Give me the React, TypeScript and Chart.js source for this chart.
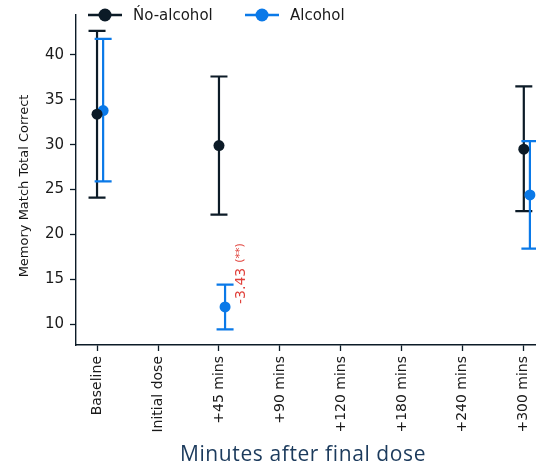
import React, { useEffect, useRef } from "react";
import { Chart, registerables } from "chart.js";

Chart.register(...registerables);

// Time points after the final dose
const categories = [
  "Baseline",
  "Initial dose",
  "+45 mins",
  "+90 mins",
  "+120 mins",
  "+180 mins",
  "+240 mins",
  "+300 mins",
];

// Memory Match total correct: mean with lower / upper error bounds
const noAlcoholMean = [33.4, null, 29.9, null, null, null, null, 29.5];
const noAlcoholLow = [24.1, null, 22.2, null, null, null, null, 22.6];
const noAlcoholHigh = [42.7, null, 37.6, null, null, null, null, 36.5];

const alcoholMean = [33.8, null, 11.9, null, null, null, null, 24.4];
const alcoholLow = [25.9, null, 9.4, null, null, null, null, 18.4];
const alcoholHigh = [41.8, null, 14.4, null, null, null, null, 30.4];

const yTicks = [10, 15, 20, 25, 30, 35, 40];

// Effect-size note attached to the alcohol group at +45 mins
const noteIndex = 2;
const noteValue = "-3.43";
const noteStars = "(**)";

const DARK = "#0c1b27";
const BLUE = "#0a79e8";
const RED = "#e0403a";
const DODGE = 0.1;
const FONT = "'DejaVu Sans', sans-serif";

type Pt = { x: number; y: number; lo: number; hi: number };

function buildPoints(
  means: (number | null)[],
  lows: (number | null)[],
  highs: (number | null)[],
  offset: number
): Pt[] {
  const out: Pt[] = [];
  means.forEach((m, i) => {
    if (m == null) return;
    out.push({ x: i + offset, y: m, lo: lows[i] as number, hi: highs[i] as number });
  });
  return out;
}

const errorBarPlugin = {
  id: "errorBars",
  beforeDatasetsDraw(chart: any) {
    const { ctx } = chart;
    const xs = chart.scales.x;
    const ys = chart.scales.y;
    chart.data.datasets.forEach((ds: any) => {
      ctx.save();
      ctx.strokeStyle = ds.borderColor;
      ctx.lineWidth = 2.2;
      ds.data.forEach((p: Pt) => {
        const px = xs.getPixelForValue(p.x);
        const pLo = ys.getPixelForValue(p.lo);
        const pHi = ys.getPixelForValue(p.hi);
        const cap = 8.5;
        ctx.beginPath();
        ctx.moveTo(px, pLo);
        ctx.lineTo(px, pHi);
        ctx.moveTo(px - cap, pLo);
        ctx.lineTo(px + cap, pLo);
        ctx.moveTo(px - cap, pHi);
        ctx.lineTo(px + cap, pHi);
        ctx.stroke();
      });
      ctx.restore();
    });
  },
};

const decorPlugin = {
  id: "decor",
  afterDraw(chart: any) {
    const { ctx } = chart;
    const xs = chart.scales.x;
    const ys = chart.scales.y;

    // Legend: line-and-marker handles
    const items = [
      { label: "Ńo-alcohol", color: DARK, x0: 88 },
      { label: "Alcohol", color: BLUE, x0: 245 },
    ];
    ctx.save();
    items.forEach((it) => {
      const y = 15;
      ctx.strokeStyle = it.color;
      ctx.lineWidth = 2.4;
      ctx.beginPath();
      ctx.moveTo(it.x0, y);
      ctx.lineTo(it.x0 + 34, y);
      ctx.stroke();
      ctx.fillStyle = it.color;
      ctx.beginPath();
      ctx.arc(it.x0 + 17, y, 6.5, 0, Math.PI * 2);
      ctx.fill();
      ctx.fillStyle = "#1a1a1a";
      ctx.font = `15px ${FONT}`;
      ctx.textBaseline = "middle";
      ctx.textAlign = "left";
      ctx.fillText(it.label, it.x0 + 45, y + 1);
    });
    ctx.restore();

    // Rotated note beside the alcohol +45 mins marker
    const nx = xs.getPixelForValue(noteIndex + DODGE) + 16;
    const ny = ys.getPixelForValue(alcoholMean[noteIndex] as number) - 3;
    ctx.save();
    ctx.translate(nx, ny);
    ctx.rotate(-Math.PI / 2);
    ctx.fillStyle = RED;
    ctx.textBaseline = "middle";
    ctx.textAlign = "left";
    ctx.font = `14px ${FONT}`;
    ctx.fillText(noteValue, 0, 0);
    const w = ctx.measureText(noteValue).width;
    ctx.font = `11px ${FONT}`;
    ctx.fillText(noteStars, w + 5, -1);
    ctx.restore();

    // Axis titles
    ctx.save();
    ctx.fillStyle = "#151515";
    ctx.font = `13px ${FONT}`;
    ctx.textAlign = "center";
    ctx.textBaseline = "middle";
    ctx.translate(25, 186);
    ctx.rotate(-Math.PI / 2);
    ctx.fillText("Memory Match Total Correct", 0, 0);
    ctx.restore();

    ctx.save();
    ctx.fillStyle = "#1b3a5c";
    ctx.font = "21px 'Open Sans', sans-serif";
    (ctx as any).letterSpacing = "0.6px";
    ctx.textAlign = "center";
    ctx.textBaseline = "middle";
    ctx.fillText("Minutes after final dose", 303, 455);
    ctx.restore();
  },
};

export default function App() {
  const ref = useRef<HTMLCanvasElement | null>(null);

  useEffect(() => {
    document.body.style.margin = "0";
    const canvas = ref.current;
    if (!canvas) return;

    const chart = new Chart(canvas, {
      type: "scatter",
      data: {
        datasets: [
          {
            label: "Ńo-alcohol",
            data: buildPoints(noAlcoholMean, noAlcoholLow, noAlcoholHigh, 0) as any,
            backgroundColor: DARK,
            borderColor: DARK,
            pointRadius: 5.5,
            pointHoverRadius: 5.5,
            borderWidth: 0,
          },
          {
            label: "Alcohol",
            data: buildPoints(alcoholMean, alcoholLow, alcoholHigh, DODGE) as any,
            backgroundColor: BLUE,
            borderColor: BLUE,
            pointRadius: 5.5,
            pointHoverRadius: 5.5,
            borderWidth: 0,
          },
        ],
      },
      options: {
        responsive: false,
        animation: false,
        layout: { autoPadding: false, padding: { top: 15, right: 0, left: 0, bottom: 0 } },
        plugins: {
          legend: { display: false },
          tooltip: { enabled: false },
        },
        scales: {
          x: {
            type: "linear",
            min: -0.345,
            max: 7.2,
            afterFit: (s: any) => {
              s.height = 124;
              s.paddingLeft = 0;
              s.paddingRight = 0;
            },
            afterBuildTicks: (s: any) => {
              s.ticks = categories.map((_, i) => ({ value: i }));
            },
            ticks: {
              autoSkip: false,
              minRotation: 90,
              maxRotation: 90,
              padding: 5,
              color: "#1a1a1a",
              font: { family: FONT, size: 14 },
              callback: (v: any) => categories[Math.round(Number(v))] ?? "",
            },
            grid: {
              display: true,
              drawOnChartArea: false,
              drawTicks: true,
              tickLength: 6,
              tickWidth: 1.3,
              tickColor: DARK,
            },
            border: { display: true, color: DARK, width: 1.4 },
          },
          y: {
            type: "linear",
            min: 7.66,
            max: 44.46,
            afterFit: (s: any) => {
              s.width = 76;
              s.paddingTop = 0;
              s.paddingBottom = 0;
            },
            afterBuildTicks: (s: any) => {
              s.ticks = yTicks.map((v) => ({ value: v }));
            },
            ticks: {
              padding: 6,
              color: "#1a1a1a",
              font: { family: FONT, size: 15 },
            },
            grid: {
              display: true,
              drawOnChartArea: false,
              drawTicks: true,
              tickLength: 6,
              tickWidth: 1.3,
              tickColor: DARK,
            },
            border: { display: true, color: DARK, width: 1.4 },
          },
        },
      },
      plugins: [errorBarPlugin, decorPlugin],
    });

    return () => chart.destroy();
  }, []);

  return (
    <div style={{ width: 536, height: 469, background: "#fff" }}>
      <canvas ref={ref} width={536} height={469} style={{ display: "block" }} />
    </div>
  );
}
